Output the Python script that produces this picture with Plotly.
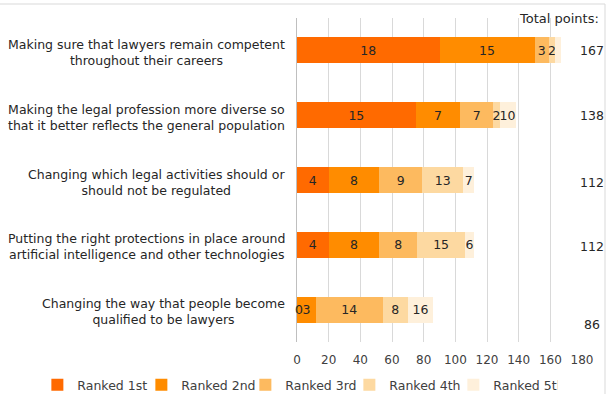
import plotly.graph_objects as go

categories = [
    "Making sure that lawyers remain competent<br>throughout their careers",
    "Making the legal profession more diverse so<br>that it better reflects the general population",
    "Changing which legal activities should or<br>should not be regulated",
    "Putting the right protections in place around<br>artificial intelligence and other technologies",
    "Changing the way that people become<br>qualified to be lawyers",
]
series_names = ["Ranked 1st", "Ranked 2nd", "Ranked 3rd", "Ranked 4th", "Ranked 5th"]
weights = [5, 4, 3, 2, 1]
# counts[rank][category]; bar length = points = count * weight
counts = [
    [18, 15, 4, 4, 0],
    [15, 7, 8, 8, 3],
    [3, 7, 9, 8, 14],
    [2, 2, 13, 15, 8],
    [4, 10, 7, 6, 16],
]
show_label = [
    [True, True, True, True, True],
    [True, True, True, True, True],
    [True, True, True, True, True],
    [True, True, True, True, True],
    [False, True, True, True, True],
]
totals = [167, 138, 112, 112, 86]
colors = ["#FF6A00", "#FF8C00", "#FDBA5F", "#FDD9A1", "#FEF0DB"]

FONT = "DejaVu Sans"
fig = go.Figure()
annotations = []
for r in range(5):
    pts = [c * weights[r] for c in counts[r]]
    txt = [str(c) if show_label[r][i] else "" for i, c in enumerate(counts[r])]
    fig.add_trace(go.Bar(
        y=categories, x=pts, orientation="h", name=series_names[r],
        marker=dict(color=colors[r], line=dict(width=0)),
        text=txt, textposition="inside", insidetextanchor="middle",
        textangle=0, constraintext="none",
        textfont=dict(family=FONT, size=12.5, color="#262626"),
        width=0.4, cliponaxis=False,
        hoverinfo="skip",
    ))
    # zero-length segments still carry a label in the reference
    for i, c in enumerate(counts[r]):
        if c == 0 and show_label[r][i]:
            start = sum(counts[k][i] * weights[k] for k in range(r))
            annotations.append(dict(
                x=start, xref="x", y=categories[i], yref="y", text="0",
                showarrow=False, xanchor="center", xshift=2,
                font=dict(family=FONT, size=12.5, color="#262626")))

for i, cat in enumerate(categories):
    annotations.append(dict(
        x=-0.035, xref="paper", y=cat, yref="y", text=cat, showarrow=False,
        xanchor="right", align="center", yanchor="middle", yshift=-2,
        font=dict(family=FONT, size=12.5, color="#262626")))
    annotations.append(dict(
        x=1.036, xref="paper", y=cat, yref="y", text=str(totals[i]), showarrow=False,
        xanchor="center", yanchor="middle", yshift=-15 if i == 4 else (-2 if i >= 2 else 0),
        font=dict(family=FONT, size=12.5, color="#262626")))
annotations.append(dict(
    x=1.065, xref="paper", y=1.0, yref="paper", text="Total points:", showarrow=False,
    xanchor="right", yanchor="middle",
    font=dict(family=FONT, size=13, color="#262626")))

fig.update_layout(
    width=608, height=394,
    margin=dict(l=297, r=26, t=18, b=52, autoexpand=False),
    barmode="stack",
    paper_bgcolor="white", plot_bgcolor="white",
    uniformtext=dict(minsize=12, mode="show"),
    annotations=annotations,
    showlegend=True,
    legend=dict(orientation="h", x=-0.911, xref="paper", xanchor="left",
                y=-0.133, yref="paper", yanchor="middle",
                font=dict(family=FONT, size=12.5, color="#404040"),
                entrywidth=59, itemwidth=30, traceorder="normal",
                bgcolor="rgba(0,0,0,0)"),
    shapes=[dict(type="rect", xref="paper", yref="paper",
                 x0=-1.1, x1=(605 - 297) / 285, y0=-0.4, y1=(342 - 4) / 324,
                 line=dict(color="#D9D9D9", width=1), layer="below")],
    font=dict(family=FONT),
)
fig.update_xaxes(range=[0, 180], dtick=20, showgrid=True, gridcolor="#D9D9D9",
                 zeroline=False, showline=False, ticks="outside", ticklen=7,
                 tickcolor="rgba(0,0,0,0)",
                 tickfont=dict(family=FONT, size=12, color="#404040"))
fig.update_yaxes(autorange="reversed", showticklabels=False, showline=True,
                 linecolor="#BFBFBF", showgrid=False, ticks="")

fig.write_html("out.html")
